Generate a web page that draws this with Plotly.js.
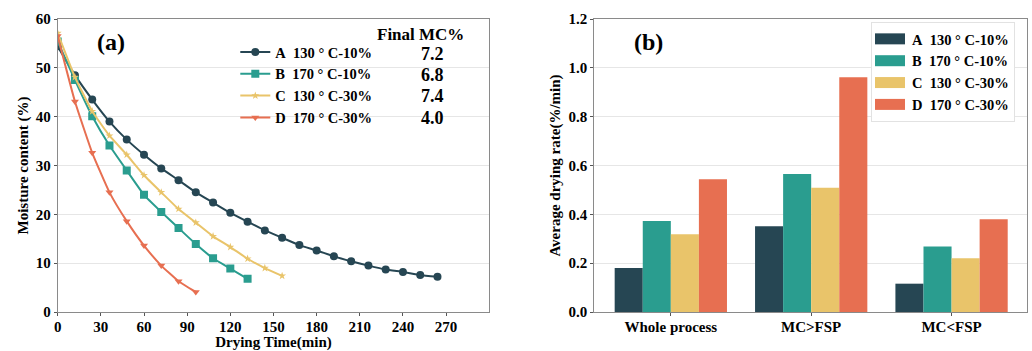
<!DOCTYPE html>
<html>
<head>
<meta charset="utf-8">
<script src="https://cdn.plot.ly/plotly-3.0.1.min.js"></script>
<style>html,body{margin:0;padding:0;background:#fff}#chart{width:1032px;height:351px}</style>
</head>
<body>
<div id="chart"></div>
<script>
// ---------- data ----------
const seriesNames = ["A\u00a0\u00a0130\u00a0°\u00a0C-10%", "B\u00a0\u00a0170\u00a0°\u00a0C-10%", "C\u00a0\u00a0130\u00a0°\u00a0C-30%", "D\u00a0\u00a0170\u00a0°\u00a0C-30%"];
const colors = ["#264653", "#2a9d8f", "#e9c46a", "#e76f51"];
const finalMC = ["7.2", "6.8", "7.4", "4.0"];

const timeA = [0,12,24,36,48,60,72,84,96,108,120,132,144,156,168,180,192,204,216,228,240,252,264];
const mcA = [54.4,48.5,43.5,39.0,35.3,32.2,29.4,27.0,24.5,22.4,20.3,18.5,16.7,15.2,13.7,12.6,11.4,10.4,9.5,8.7,8.2,7.6,7.2];
const timeB = [0,12,24,36,48,60,72,84,96,108,120,132];
const mcB = [55.4,47.5,40.1,34.1,29.0,24.0,20.5,17.2,13.9,11.0,8.9,6.8];
const timeC = [0,12,24,36,48,60,72,84,96,108,120,132,144,156];
const mcC = [57.1,48.1,41.1,36.1,32.2,28.0,24.5,21.1,18.3,15.5,13.3,10.9,9.0,7.4];
const timeD = [0,12,24,36,48,60,72,84,96];
const mcD = [56.5,43.1,32.6,24.5,18.6,13.6,9.5,6.3,4.1];

const stages = ["Whole process", "MC>FSP", "MC<FSP"];
const rateA = [0.180, 0.351, 0.116];
const rateB = [0.373, 0.565, 0.268];
const rateC = [0.318, 0.509, 0.220];
const rateD = [0.544, 0.961, 0.380];

const xTicks = [0,30,60,90,120,150,180,210,240,270];

// ---------- style ----------
const FONT = "Liberation Serif, Times New Roman, serif";
const times = [timeA, timeB, timeC, timeD];
const mcs = [mcA, mcB, mcC, mcD];
const rates = [rateA, rateB, rateC, rateD];
const symbols = ["circle", "square", "star", "triangle-down"];
const msizes = [8, 8, 6, 7];

const traces = [];
for (let i = 0; i < 4; i++) {
  traces.push({
    type: "scatter", mode: "lines+markers",
    x: times[i], y: mcs[i], name: seriesNames[i],
    line: {color: colors[i], width: 2, shape: "spline", smoothing: 0.4},
    marker: {symbol: symbols[i], size: msizes[i], color: colors[i]},
    xaxis: "x", yaxis: "y", legend: "legend"
  });
}
for (let i = 0; i < 4; i++) {
  traces.push({
    type: "bar", x: stages, y: rates[i], name: seriesNames[i],
    marker: {color: colors[i], line: {width: 0}},
    xaxis: "x2", yaxis: "y2", legend: "legend2"
  });
}

const tickFont = {family: FONT, size: 15, color: "#000", weight: "bold"};
const titleFont = {family: FONT, size: 15, color: "#000", weight: "bold"};
const axisCommon = {
  showline: true, mirror: true, linecolor: "#8a8a8a", linewidth: 1,
  ticks: "outside", ticklen: 3, tickcolor: "#555",
  tickfont: tickFont, zeroline: false
};

const annotations = [
  {xref: "paper", yref: "paper", x: 0.092, y: 0.92, xanchor: "left", yanchor: "middle",
   text: "(a)", showarrow: false, font: {family: FONT, size: 24, color: "#000", weight: "bold"}},
  {xref: "paper", yref: "paper", x: 0.612, y: 0.92, xanchor: "left", yanchor: "middle",
   text: "(b)", showarrow: false, font: {family: FONT, size: 24, color: "#000", weight: "bold"}},
  {xref: "paper", yref: "paper", x: 0.407, y: 0.946, xanchor: "center", yanchor: "middle",
   text: "Final MC%", showarrow: false, font: {family: FONT, size: 17, color: "#000", weight: "bold"}}
];
for (let i = 0; i < 4; i++) {
  annotations.push({xref: "paper", yref: "paper", x: 0.4195, y: 0.881 - i * 0.0725,
    xanchor: "center", yanchor: "middle", text: finalMC[i], showarrow: false,
    font: {family: FONT, size: 18, color: "#000", weight: "bold"}});
}

const layout = {
  width: 1032, height: 351,
  margin: {l: 0, r: 0, t: 19, b: 38.5},
  paper_bgcolor: "#fff", plot_bgcolor: "#fff",
  font: {family: FONT, color: "#000"},
  showlegend: true,
  barmode: "group", bargap: 0.2, bargroupgap: 0,
  xaxis: Object.assign({}, axisCommon, {
    domain: [0.0559, 0.4741], range: [0, 300], tickvals: xTicks,
    showgrid: false, ticklabelstandoff: -2,
    title: {text: "Drying Time(min)", font: titleFont, standoff: 1}
  }),
  yaxis: Object.assign({}, axisCommon, {
    domain: [0, 1], range: [0, 60], dtick: 10,
    showgrid: true, gridcolor: "#e6e6e6",
    title: {text: "Moisture content (%)", font: titleFont, standoff: 3}
  }),
  xaxis2: Object.assign({}, axisCommon, {
    domain: [0.5759, 0.9955], range: [-0.545, 2.54], anchor: "y2",
    showgrid: false, ticklabelstandoff: -2,
    title: {text: ""}
  }),
  yaxis2: Object.assign({}, axisCommon, {
    domain: [0, 1], range: [0, 1.2], dtick: 0.2, tickformat: ".1f", anchor: "x2",
    showgrid: true, gridcolor: "#e6e6e6",
    title: {text: "Average drying rate(%/min)", font: titleFont, standoff: 4}
  }),
  legend: {
    x: 0.228, y: 0.942, xanchor: "left", yanchor: "top",
    bgcolor: "rgba(0,0,0,0)", borderwidth: 0, tracegroupgap: 0,
    font: {family: FONT, size: 14.5, color: "#000", weight: "bold"}
  },
  legend2: {
    x: 0.844, y: 0.99, xanchor: "left", yanchor: "top",
    bgcolor: "#fff", bordercolor: "#e2e2e2", borderwidth: 1, tracegroupgap: 0,
    font: {family: FONT, size: 14.5, color: "#000", weight: "bold"}
  },
  annotations: annotations
};

Plotly.newPlot("chart", traces, layout, {staticPlot: true, displayModeBar: false}).then(function (gd) {
  // widen the bar legend swatches to flat rectangles like the reference
  gd.querySelectorAll(".legend2 .legendpoints path").forEach(function (p) {
    p.setAttribute("d", "M13,5.5H-17V-5.5H13Z");
  });
});
</script>
</body>
</html>
